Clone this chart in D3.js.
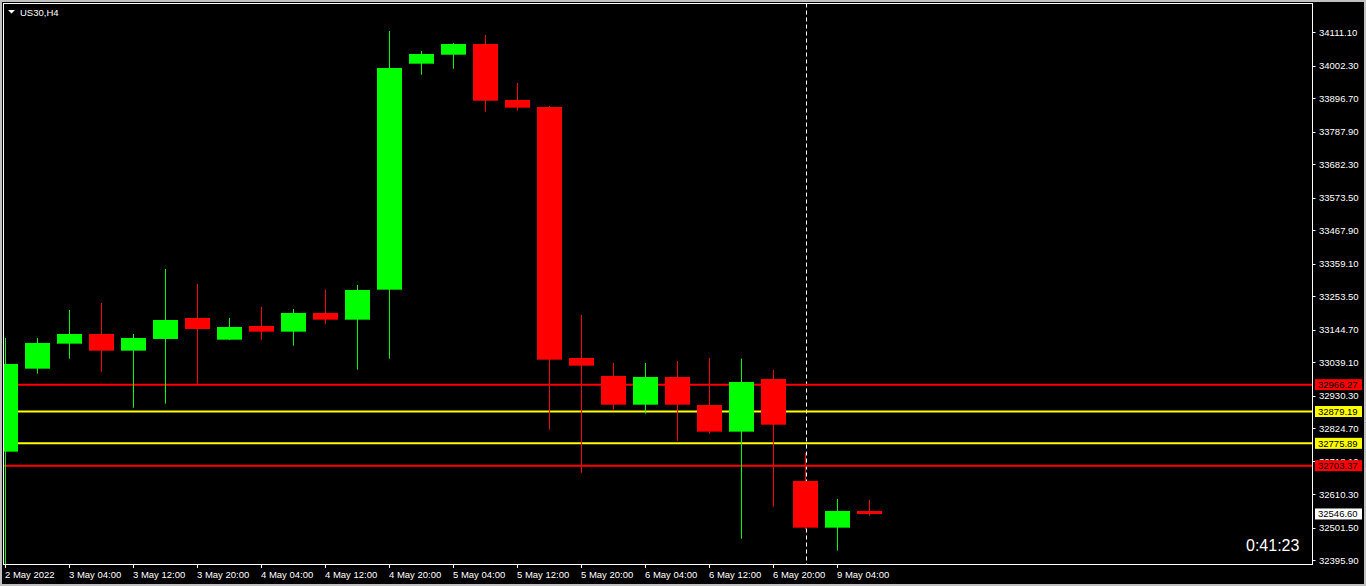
<!DOCTYPE html>
<html><head><meta charset="utf-8">
<script src="https://cdn.jsdelivr.net/npm/d3@7"></script>
<style>html,body{margin:0;padding:0;background:#c0c0c0;overflow:hidden}svg{display:block}</style>
</head><body>
<svg id="c" width="1366" height="586"></svg>
<script>
const symbolTitle = "US30,H4";
const opens  = [32748.9,33018.3,33099.4,33130.9,33076.7,33114.7,33182.9,33112.4,33156.9,33138.4,33199.1,33177.3,33274.7,34008.2,34037.4,34072.2,33890.4,33867.7,33053.0,32994.6,32901.4,32991.4,32900.4,32813.8,32984.9,32653.8,32502.2,32556.4];
const highs  = [33117.9,33117.9,33208.8,33231.5,33130.9,33341.9,33293.2,33182.9,33218.5,33212.0,33273.7,33290.0,34114.3,34049.4,34075.4,34101.4,33945.6,33870.9,33192.6,33036.8,33036.8,33043.3,33053.0,33050.7,33014.1,32744.7,32595.4,32592.1];
const lows   = [32370.0,33002.1,33050.7,33008.6,32891.7,32904.7,32969.6,33111.4,33112.4,33092.9,33164.3,33015.0,33050.7,33972.5,33992.0,33852.4,33855.7,32820.3,32680.7,32885.2,32872.2,32784.6,32807.3,32466.6,32570.4,32497.0,32427.6,32541.2];
const closes = [33033.5,33101.7,33130.9,33076.7,33117.9,33176.3,33147.1,33153.6,33138.4,33199.1,33177.3,33273.7,33994.3,34039.7,34072.2,33888.1,33865.4,33047.5,33028.0,32901.4,32991.4,32901.4,32813.8,32975.1,32836.5,32502.2,32556.4,32546.6];
const timeLabels = ["2 May 2022","3 May 04:00","3 May 12:00","3 May 20:00","4 May 04:00","4 May 12:00","4 May 20:00","5 May 04:00","5 May 12:00","5 May 20:00","6 May 04:00","6 May 12:00","6 May 20:00","9 May 04:00"];
const timeLabelIdx = [0,2,4,6,8,10,12,14,16,18,20,22,24,26];
const priceTicks = [34111.10,34002.30,33896.70,33787.90,33682.30,33573.50,33467.90,33359.10,33253.50,33144.70,33039.10,32930.30,32824.70,32718.10,32610.30,32501.50,32395.90];
const levelValues = [32966.27,32879.19,32775.89,32703.37];
const levelColors = ["#ff0000","#ffff00","#ffff00","#ff0000"];
const currentPrice = 32546.60;
const separatorIdx = 25;
const timerText = "0:41:23";

const svg = d3.select("#c");
const font = "'Liberation Sans', Arial, sans-serif";
const L = 3.5, T = 3.5, R = 1312.5, B = 564.5;

svg.append("rect").attr("x",2).attr("y",2).attr("width",1362).attr("height",582).attr("fill","#000");

const x = d3.scaleLinear().domain([0, 27]).range([5.5, 869.5]);
const y = d3.scaleLinear().domain([32395.9, 34111.1]).range([560.4, 32.0]);

svg.append("defs").append("clipPath").attr("id","plot")
  .append("rect").attr("x",L+0.5).attr("y",T+0.5).attr("width",R-L-1).attr("height",B-T-1);

const plot = svg.append("g").attr("clip-path","url(#plot)");

// separator dashed line
plot.append("line").attr("x1",Math.round(x(separatorIdx))+0.5).attr("x2",Math.round(x(separatorIdx))+0.5)
  .attr("y1",T).attr("y2",B).attr("stroke","#fff").attr("stroke-width",1).attr("stroke-dasharray","4,3");

// level lines
plot.selectAll("line.level").data(levelValues).enter().append("line")
  .attr("x1",L).attr("x2",R).attr("y1",d=>y(d)).attr("y2",d=>y(d))
  .attr("stroke",(d,i)=>levelColors[i]).attr("stroke-width",2);

// candles
const idx = d3.range(opens.length);
const col = i => closes[i] >= opens[i] ? "#00ff00" : "#ff0000";
plot.selectAll("line.wick").data(idx).enter().append("line")
  .attr("x1",i=>Math.floor(x(i))+0.5).attr("x2",i=>Math.floor(x(i))+0.5)
  .attr("y1",i=>y(highs[i])).attr("y2",i=>y(lows[i]))
  .attr("stroke",col).attr("stroke-width",1);
const bw = 25;
plot.selectAll("rect.body").data(idx).enter().append("rect")
  .attr("x",i=>x(i)-bw/2).attr("width",bw)
  .attr("y",i=>y(Math.max(opens[i],closes[i])))
  .attr("height",i=>Math.max(1, Math.abs(y(opens[i])-y(closes[i]))))
  .attr("fill",col);

// frame
svg.append("rect").attr("x",L).attr("y",T).attr("width",R-L).attr("height",B-T)
  .attr("fill","none").attr("stroke","#fff").attr("stroke-width",1);

// title
svg.append("path").attr("d","M8,10 L15,10 L11.5,13.5 Z").attr("fill","#fff");
svg.append("text").attr("x",20).attr("y",15.5).attr("fill","#fff").attr("font-family",font).attr("font-size",9.5).text(symbolTitle);

// price axis
const pa = svg.append("g");
pa.selectAll("line").data(priceTicks).enter().append("line")
  .attr("x1",R).attr("x2",R+3).attr("y1",d=>Math.round(y(d))+0.5).attr("y2",d=>Math.round(y(d))+0.5)
  .attr("stroke","#fff");
pa.selectAll("text").data(priceTicks).enter().append("text")
  .attr("x",1319).attr("y",d=>y(d)+3.5).attr("fill","#fff")
  .attr("font-family",font).attr("font-size",9.5).text(d=>d.toFixed(2));

// level labels
const boxVals = levelValues.concat([currentPrice]);
const boxCols = levelColors.concat(["#ffffff"]);
const lb = svg.append("g");
lb.selectAll("rect").data(boxVals).enter().append("rect")
  .attr("x",1315).attr("width",47).attr("y",d=>y(d)-5.5).attr("height",11)
  .attr("fill",(d,i)=>boxCols[i]);
lb.selectAll("text").data(boxVals).enter().append("text")
  .attr("x",1318).attr("y",d=>y(d)+3.5).attr("fill","#000")
  .attr("font-family",font).attr("font-size",9.5).text(d=>d.toFixed(2));

// time axis
const ta = svg.append("g");
ta.selectAll("line").data(timeLabelIdx).enter().append("line")
  .attr("x1",i=>Math.floor(x(i))+0.5).attr("x2",i=>Math.floor(x(i))+0.5)
  .attr("y1",B).attr("y2",B+3.5).attr("stroke","#fff");
ta.selectAll("text").data(timeLabelIdx).enter().append("text")
  .attr("x",(i)=>Math.floor(x(i))).attr("y",577.5).attr("fill","#fff")
  .attr("font-family",font).attr("font-size",9.5).text((d,k)=>timeLabels[k]);

// timer
svg.append("text").attr("x",1246).attr("y",550.5).attr("fill","#fff")
  .attr("font-family",font).attr("font-size",16).text(timerText);
</script>
</body></html>
